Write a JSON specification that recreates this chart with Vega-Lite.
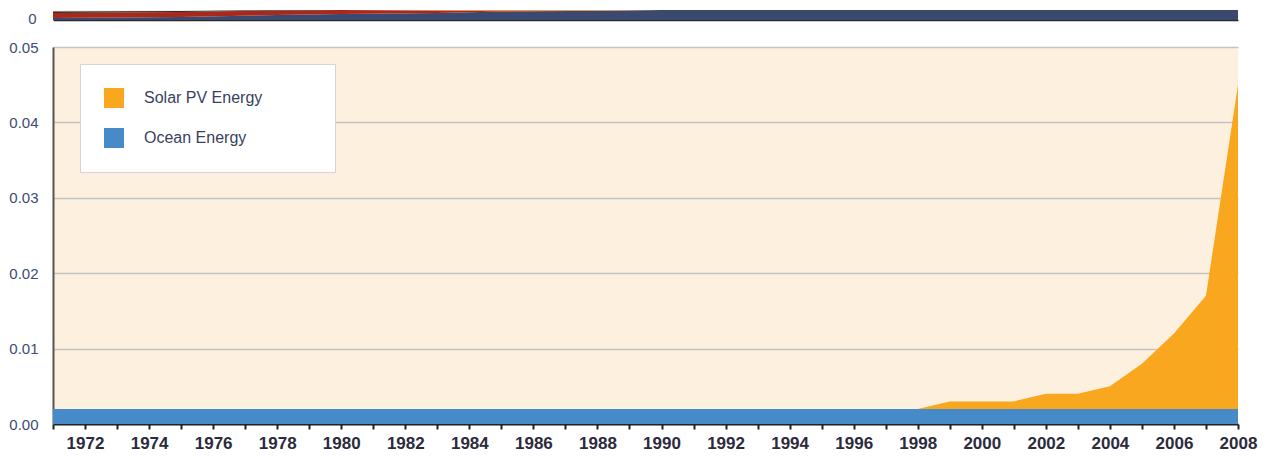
{
  "$schema": "https://vega.github.io/schema/vega-lite/v6.json",
  "background": "white",
  "padding": {"left": 8, "top": 10, "right": 10, "bottom": 5},
  "bounds": "flush",
  "spacing": 27,
  "config": {"view": {"stroke": null}, "font": "Liberation Sans"},
  "resolve": {"scale": {"color": "independent", "y": "independent"}, "legend": {"color": "independent"}},
  "vconcat": [
    {
      "width": 1185,
      "height": 10,
      "view": {"fill": "#fbeedd", "stroke": null},
      "data": {"values": [
        {"year": 1971, "s": "A", "v": 2}, {"year": 1971, "s": "B", "v": 5}, {"year": 1971, "s": "C", "v": 0}, {"year": 1971, "s": "D", "v": 1.5},
        {"year": 1975, "s": "A", "v": 3}, {"year": 1975, "s": "B", "v": 5}, {"year": 1975, "s": "C", "v": 0}, {"year": 1975, "s": "D", "v": 1},
        {"year": 1978, "s": "A", "v": 5}, {"year": 1978, "s": "B", "v": 4.5}, {"year": 1978, "s": "C", "v": 0}, {"year": 1978, "s": "D", "v": 0.5},
        {"year": 1980, "s": "A", "v": 6}, {"year": 1980, "s": "B", "v": 4}, {"year": 1980, "s": "C", "v": 0}, {"year": 1980, "s": "D", "v": 0},
        {"year": 1983, "s": "A", "v": 7}, {"year": 1983, "s": "B", "v": 2.5}, {"year": 1983, "s": "C", "v": 0.5}, {"year": 1983, "s": "D", "v": 0},
        {"year": 1985, "s": "A", "v": 8.5}, {"year": 1985, "s": "B", "v": 0.5}, {"year": 1985, "s": "C", "v": 1}, {"year": 1985, "s": "D", "v": 0},
        {"year": 1988, "s": "A", "v": 9.2}, {"year": 1988, "s": "B", "v": 0}, {"year": 1988, "s": "C", "v": 0.8}, {"year": 1988, "s": "D", "v": 0},
        {"year": 1990, "s": "A", "v": 10}, {"year": 1990, "s": "B", "v": 0}, {"year": 1990, "s": "C", "v": 0}, {"year": 1990, "s": "D", "v": 0},
        {"year": 2008, "s": "A", "v": 10}, {"year": 2008, "s": "B", "v": 0}, {"year": 2008, "s": "C", "v": 0}, {"year": 2008, "s": "D", "v": 0}
      ]},
      "mark": {"type": "area", "clip": true, "interpolate": "linear"},
      "encoding": {
        "x": {"field": "year", "type": "quantitative", "scale": {"domain": [1971, 2008], "nice": false, "zero": false},
              "axis": {"labels": false, "ticks": false, "grid": false, "title": null, "domainColor": "#2a2a2a", "domainWidth": 1.5}},
        "y": {"field": "v", "type": "quantitative", "stack": "zero", "scale": {"domain": [0, 10], "nice": false},
              "axis": {"values": [0], "format": "d", "grid": false, "ticks": false, "domain": false, "title": null,
                       "labelPadding": 17, "labelFontSize": 15, "labelColor": "#3e4c72", "labelOffset": -2}},
        "color": {"field": "s", "type": "nominal", "legend": null,
                  "scale": {"domain": ["A", "B", "C", "D"], "range": ["#3b4870", "#a8291c", "#e8903a", "#2a2a2a"]}},
        "order": {"field": "s", "sort": "ascending"}
      }
    },
    {
      "width": 1185,
      "height": 377,
      "view": {"fill": "#fdf0de", "stroke": null},
      "data": {"values": [
        {"year": 1971, "series": "Ocean Energy", "value": 0.002}, {"year": 1972, "series": "Ocean Energy", "value": 0.002},
        {"year": 1973, "series": "Ocean Energy", "value": 0.002}, {"year": 1974, "series": "Ocean Energy", "value": 0.002},
        {"year": 1975, "series": "Ocean Energy", "value": 0.002}, {"year": 1976, "series": "Ocean Energy", "value": 0.002},
        {"year": 1977, "series": "Ocean Energy", "value": 0.002}, {"year": 1978, "series": "Ocean Energy", "value": 0.002},
        {"year": 1979, "series": "Ocean Energy", "value": 0.002}, {"year": 1980, "series": "Ocean Energy", "value": 0.002},
        {"year": 1981, "series": "Ocean Energy", "value": 0.002}, {"year": 1982, "series": "Ocean Energy", "value": 0.002},
        {"year": 1983, "series": "Ocean Energy", "value": 0.002}, {"year": 1984, "series": "Ocean Energy", "value": 0.002},
        {"year": 1985, "series": "Ocean Energy", "value": 0.002}, {"year": 1986, "series": "Ocean Energy", "value": 0.002},
        {"year": 1987, "series": "Ocean Energy", "value": 0.002}, {"year": 1988, "series": "Ocean Energy", "value": 0.002},
        {"year": 1989, "series": "Ocean Energy", "value": 0.002}, {"year": 1990, "series": "Ocean Energy", "value": 0.002},
        {"year": 1991, "series": "Ocean Energy", "value": 0.002}, {"year": 1992, "series": "Ocean Energy", "value": 0.002},
        {"year": 1993, "series": "Ocean Energy", "value": 0.002}, {"year": 1994, "series": "Ocean Energy", "value": 0.002},
        {"year": 1995, "series": "Ocean Energy", "value": 0.002}, {"year": 1996, "series": "Ocean Energy", "value": 0.002},
        {"year": 1997, "series": "Ocean Energy", "value": 0.002}, {"year": 1998, "series": "Ocean Energy", "value": 0.002},
        {"year": 1999, "series": "Ocean Energy", "value": 0.002}, {"year": 2000, "series": "Ocean Energy", "value": 0.002},
        {"year": 2001, "series": "Ocean Energy", "value": 0.002}, {"year": 2002, "series": "Ocean Energy", "value": 0.002},
        {"year": 2003, "series": "Ocean Energy", "value": 0.002}, {"year": 2004, "series": "Ocean Energy", "value": 0.002},
        {"year": 2005, "series": "Ocean Energy", "value": 0.002}, {"year": 2006, "series": "Ocean Energy", "value": 0.002},
        {"year": 2007, "series": "Ocean Energy", "value": 0.002}, {"year": 2008, "series": "Ocean Energy", "value": 0.002},
        {"year": 1971, "series": "Solar PV Energy", "value": 0}, {"year": 1972, "series": "Solar PV Energy", "value": 0},
        {"year": 1973, "series": "Solar PV Energy", "value": 0}, {"year": 1974, "series": "Solar PV Energy", "value": 0},
        {"year": 1975, "series": "Solar PV Energy", "value": 0}, {"year": 1976, "series": "Solar PV Energy", "value": 0},
        {"year": 1977, "series": "Solar PV Energy", "value": 0}, {"year": 1978, "series": "Solar PV Energy", "value": 0},
        {"year": 1979, "series": "Solar PV Energy", "value": 0}, {"year": 1980, "series": "Solar PV Energy", "value": 0},
        {"year": 1981, "series": "Solar PV Energy", "value": 0}, {"year": 1982, "series": "Solar PV Energy", "value": 0},
        {"year": 1983, "series": "Solar PV Energy", "value": 0}, {"year": 1984, "series": "Solar PV Energy", "value": 0},
        {"year": 1985, "series": "Solar PV Energy", "value": 0}, {"year": 1986, "series": "Solar PV Energy", "value": 0},
        {"year": 1987, "series": "Solar PV Energy", "value": 0}, {"year": 1988, "series": "Solar PV Energy", "value": 0},
        {"year": 1989, "series": "Solar PV Energy", "value": 0}, {"year": 1990, "series": "Solar PV Energy", "value": 0},
        {"year": 1991, "series": "Solar PV Energy", "value": 0}, {"year": 1992, "series": "Solar PV Energy", "value": 0},
        {"year": 1993, "series": "Solar PV Energy", "value": 0}, {"year": 1994, "series": "Solar PV Energy", "value": 0},
        {"year": 1995, "series": "Solar PV Energy", "value": 0}, {"year": 1996, "series": "Solar PV Energy", "value": 0},
        {"year": 1997, "series": "Solar PV Energy", "value": 0}, {"year": 1998, "series": "Solar PV Energy", "value": 0},
        {"year": 1999, "series": "Solar PV Energy", "value": 0.001}, {"year": 2000, "series": "Solar PV Energy", "value": 0.001},
        {"year": 2001, "series": "Solar PV Energy", "value": 0.001}, {"year": 2002, "series": "Solar PV Energy", "value": 0.002},
        {"year": 2003, "series": "Solar PV Energy", "value": 0.002}, {"year": 2004, "series": "Solar PV Energy", "value": 0.003},
        {"year": 2005, "series": "Solar PV Energy", "value": 0.006}, {"year": 2006, "series": "Solar PV Energy", "value": 0.010},
        {"year": 2007, "series": "Solar PV Energy", "value": 0.015}, {"year": 2008, "series": "Solar PV Energy", "value": 0.043}
      ]},
      "mark": {"type": "area", "interpolate": "linear"},
      "encoding": {
        "x": {"field": "year", "type": "quantitative", "scale": {"domain": [1971, 2008], "nice": false, "zero": false},
              "axis": {"values": [1971,1972,1973,1974,1975,1976,1977,1978,1979,1980,1981,1982,1983,1984,1985,1986,1987,1988,1989,1990,1991,1992,1993,1994,1995,1996,1997,1998,1999,2000,2001,2002,2003,2004,2005,2006,2007,2008],
                       "format": "d", "labelExpr": "datum.value % 2 == 0 ? datum.label : ''",
                       "title": null, "grid": false, "labelOverlap": false, "labelFlush": false,
                       "tickSize": 5, "tickColor": "#222222", "tickWidth": 2,
                       "domainColor": "#222222", "domainWidth": 2,
                       "labelFontSize": 17, "labelFontWeight": "bold", "labelColor": "#2b2b3b", "labelPadding": 6}},
        "y": {"field": "value", "type": "quantitative", "stack": "zero", "scale": {"domain": [0, 0.05], "nice": false},
              "axis": {"values": [0, 0.01, 0.02, 0.03, 0.04, 0.05], "format": ".2f", "title": null,
                       "grid": true, "gridColor": "#c4c4c4", "gridWidth": 1.5,
                       "domain": true, "domainColor": "#555555", "domainWidth": 2, "ticks": false,
                       "labelPadding": 15, "labelFontSize": 15, "labelColor": "#3e4c72"}},
        "color": {"field": "series", "type": "nominal",
                  "scale": {"domain": ["Solar PV Energy", "Ocean Energy"], "range": ["#f8a71e", "#468bc8"]},
                  "legend": {"orient": "none", "legendX": 27, "legendY": 17, "title": null,
                             "fillColor": "white", "strokeColor": "#d4d4d4", "padding": 24,
                             "symbolType": "square", "symbolSize": 400, "symbolStrokeWidth": 0, "symbolOpacity": 1,
                             "labelFontSize": 16, "labelColor": "#3a3f5e", "labelOffset": 20, "rowPadding": 20,
                             "labelLimit": 400,
                             "labelExpr": "datum.label + '\u2800\u2800\u2800\u2800'"}},
        "order": {"field": "series", "sort": "ascending"}
      }
    }
  ]
}
